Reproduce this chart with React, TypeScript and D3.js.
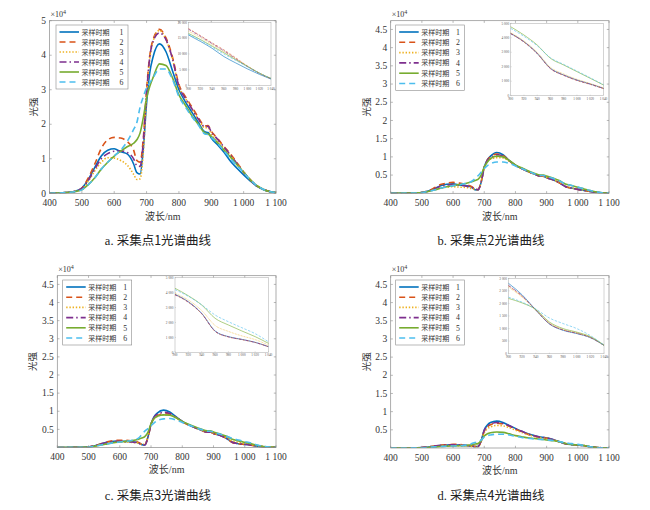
import React from 'react';
import * as d3 from 'd3';

// ---------- data ----------
const wavelengths = [400, 450, 480, 500, 520, 540, 560, 580, 600, 620, 640, 660, 670, 680, 690, 700, 710, 720, 740, 760, 780, 800, 820, 840, 860, 880, 890, 900, 920, 940, 960, 980, 1000, 1020, 1040, 1060, 1080, 1100];

const periodNames = ['采样时期', '采样时期', '采样时期', '采样时期', '采样时期', '采样时期'];
const periodNumbers = ['1', '2', '3', '4', '5', '6'];
const periodColors = ['#0072BD', '#D95319', '#EDB120', '#7E2F8E', '#77AC30', '#4DBEEE'];
const periodDashes = ['', '6,4', '1.4,1.8', '7,3,1.5,3', '', '6,4'];
const periodInsetDashes = ['', '2.5,1.5', '0.8,0.8', '3,1.2,0.8,1.2', '', '2.5,1.5'];

const xTicks = [400, 500, 600, 700, 800, 900, 1000, 1100];
const insetXTicks = [900, 920, 940, 960, 980, 1000, 1020, 1040];
const yTicksSite1 = [0, 1, 2, 3, 4, 5];
const yTicksOther = [0.5, 1, 1.5, 2, 2.5, 3, 3.5, 4, 4.5];
const insetYTicksSite1 = [0, 5000, 10000, 15000, 20000];
const insetYTicksSite23 = [0, 1000, 2000, 3000, 4000, 5000];
const insetYTicksSite4 = [0, 500, 1000, 1500, 2000, 2500, 3000];

const captionLetters = ['a.', 'b.', 'c.', 'd.'];
const captionTexts = ['采集点1光谱曲线', '采集点2光谱曲线', '采集点3光谱曲线', '采集点4光谱曲线'];

// site 1 (×10^4)
const site1P1 = [0, 0.02, 0.06, 0.15, 0.4, 0.75, 1.08, 1.25, 1.29, 1.2, 1.14, 0.85, 0.6, 0.56, 1.3, 2.6, 3.5, 3.95, 4.33, 4.1, 3.55, 3.0, 2.65, 2.35, 2.05, 1.78, 1.76, 1.6, 1.4, 1.18, 0.92, 0.72, 0.53, 0.36, 0.21, 0.11, 0.05, 0.02];
const site1P2 = [0, 0.02, 0.06, 0.15, 0.45, 0.85, 1.3, 1.55, 1.62, 1.6, 1.5, 1.25, 0.95, 0.9, 1.6, 3.0, 4.0, 4.45, 4.75, 4.5, 3.95, 3.15, 2.8, 2.5, 2.2, 1.95, 1.96, 1.8, 1.58, 1.35, 1.13, 0.88, 0.62, 0.4, 0.22, 0.12, 0.05, 0.02];
const site1P3 = [0, 0.02, 0.06, 0.13, 0.35, 0.65, 0.9, 1.03, 1.02, 0.95, 0.82, 0.55, 0.4, 0.42, 1.2, 2.8, 3.9, 4.4, 4.72, 4.45, 3.9, 3.1, 2.75, 2.45, 2.15, 1.9, 1.9, 1.72, 1.52, 1.3, 1.08, 0.85, 0.62, 0.4, 0.23, 0.12, 0.05, 0.02];
const site1P4 = [0, 0.02, 0.06, 0.14, 0.38, 0.7, 1.0, 1.15, 1.22, 1.23, 1.18, 1.0, 0.8, 0.78, 1.5, 2.9, 3.95, 4.4, 4.65, 4.45, 3.9, 3.1, 2.75, 2.45, 2.15, 1.93, 1.94, 1.78, 1.56, 1.33, 1.1, 0.85, 0.6, 0.39, 0.22, 0.12, 0.05, 0.02];
const site1P5 = [0, 0.02, 0.05, 0.1, 0.25, 0.45, 0.7, 0.9, 1.08, 1.22, 1.35, 1.45, 1.55, 1.75, 2.2, 2.75, 3.1, 3.35, 3.75, 3.7, 3.35, 2.85, 2.55, 2.25, 2.0, 1.75, 1.72, 1.65, 1.46, 1.25, 1.04, 0.82, 0.61, 0.4, 0.23, 0.12, 0.05, 0.02];
const site1P6 = [0, 0.02, 0.05, 0.1, 0.25, 0.45, 0.7, 0.9, 1.08, 1.25, 1.5, 1.85, 2.05, 2.5, 2.8, 3.05, 3.2, 3.35, 3.6, 3.6, 3.3, 2.8, 2.5, 2.22, 1.98, 1.72, 1.7, 1.62, 1.44, 1.22, 1.0, 0.8, 0.6, 0.4, 0.23, 0.12, 0.05, 0.02];

// site 2
const site2P1 = [0, 0.005, 0.01, 0.02, 0.06, 0.13, 0.21, 0.25, 0.26, 0.23, 0.21, 0.17, 0.1, 0.09, 0.3, 0.72, 0.92, 1.02, 1.12, 1.06, 0.9, 0.77, 0.68, 0.6, 0.53, 0.47, 0.47, 0.43, 0.373, 0.293, 0.189, 0.143, 0.108, 0.081, 0.051, 0.025, 0.01, 0.005];
const site2P2 = [0, 0.005, 0.01, 0.02, 0.07, 0.15, 0.24, 0.28, 0.3, 0.28, 0.24, 0.18, 0.12, 0.1, 0.32, 0.72, 0.92, 1.0, 1.08, 1.04, 0.9, 0.77, 0.68, 0.6, 0.53, 0.47, 0.47, 0.43, 0.37, 0.29, 0.186, 0.14, 0.105, 0.078, 0.049, 0.024, 0.01, 0.005];
const site2P3 = [0, 0.005, 0.01, 0.02, 0.05, 0.1, 0.14, 0.17, 0.18, 0.17, 0.16, 0.13, 0.1, 0.1, 0.3, 0.68, 0.88, 0.94, 0.98, 0.97, 0.88, 0.77, 0.68, 0.6, 0.53, 0.47, 0.46, 0.435, 0.378, 0.3, 0.196, 0.15, 0.113, 0.085, 0.054, 0.026, 0.01, 0.005];
const site2P4 = [0, 0.005, 0.01, 0.02, 0.06, 0.12, 0.19, 0.22, 0.24, 0.22, 0.2, 0.16, 0.12, 0.1, 0.3, 0.7, 0.9, 0.98, 1.06, 1.03, 0.9, 0.77, 0.68, 0.6, 0.53, 0.47, 0.47, 0.428, 0.372, 0.292, 0.188, 0.142, 0.107, 0.08, 0.05, 0.025, 0.01, 0.005];
const site2P5 = [0, 0.005, 0.01, 0.02, 0.05, 0.09, 0.14, 0.18, 0.21, 0.24, 0.27, 0.32, 0.35, 0.38, 0.5, 0.72, 0.86, 0.95, 1.02, 1.0, 0.9, 0.78, 0.7, 0.62, 0.55, 0.5, 0.5, 0.476, 0.419, 0.35, 0.258, 0.212, 0.166, 0.12, 0.074, 0.035, 0.012, 0.005];
const site2P6 = [0, 0.005, 0.01, 0.02, 0.05, 0.09, 0.14, 0.18, 0.21, 0.24, 0.27, 0.33, 0.4, 0.48, 0.58, 0.68, 0.76, 0.81, 0.86, 0.86, 0.82, 0.75, 0.68, 0.61, 0.54, 0.49, 0.49, 0.465, 0.41, 0.345, 0.262, 0.216, 0.17, 0.124, 0.076, 0.036, 0.012, 0.005];

// site 3
const site3P1 = [0, 0.004, 0.008, 0.015, 0.05, 0.1, 0.15, 0.17, 0.18, 0.17, 0.16, 0.13, 0.08, 0.07, 0.28, 0.65, 0.85, 0.95, 1.03, 0.98, 0.85, 0.72, 0.63, 0.55, 0.48, 0.43, 0.43, 0.389, 0.339, 0.261, 0.143, 0.105, 0.087, 0.067, 0.038, 0.018, 0.008, 0.004];
const site3P2 = [0, 0.004, 0.008, 0.015, 0.05, 0.1, 0.16, 0.19, 0.2, 0.2, 0.18, 0.14, 0.09, 0.08, 0.28, 0.64, 0.82, 0.88, 0.93, 0.92, 0.83, 0.71, 0.62, 0.55, 0.48, 0.42, 0.42, 0.385, 0.335, 0.258, 0.14, 0.103, 0.085, 0.066, 0.037, 0.018, 0.008, 0.004];
const site3P3 = [0, 0.004, 0.008, 0.015, 0.04, 0.08, 0.12, 0.14, 0.15, 0.15, 0.14, 0.12, 0.09, 0.09, 0.3, 0.64, 0.8, 0.86, 0.9, 0.89, 0.82, 0.71, 0.63, 0.55, 0.48, 0.43, 0.43, 0.395, 0.35, 0.28, 0.18, 0.14, 0.11, 0.085, 0.048, 0.022, 0.009, 0.004];
const site3P4 = [0, 0.004, 0.008, 0.015, 0.05, 0.1, 0.14, 0.16, 0.17, 0.16, 0.15, 0.12, 0.08, 0.07, 0.27, 0.64, 0.84, 0.92, 0.97, 0.94, 0.84, 0.72, 0.63, 0.55, 0.48, 0.42, 0.42, 0.386, 0.337, 0.259, 0.142, 0.104, 0.086, 0.066, 0.037, 0.018, 0.008, 0.004];
const site3P5 = [0, 0.004, 0.008, 0.012, 0.035, 0.07, 0.1, 0.13, 0.15, 0.17, 0.19, 0.23, 0.26, 0.3, 0.42, 0.65, 0.8, 0.86, 0.9, 0.89, 0.82, 0.72, 0.64, 0.57, 0.51, 0.46, 0.46, 0.429, 0.379, 0.317, 0.228, 0.183, 0.143, 0.105, 0.06, 0.028, 0.01, 0.004];
const site3P6 = [0, 0.004, 0.008, 0.012, 0.035, 0.07, 0.1, 0.13, 0.15, 0.17, 0.2, 0.26, 0.35, 0.45, 0.52, 0.6, 0.68, 0.74, 0.79, 0.8, 0.76, 0.69, 0.62, 0.56, 0.5, 0.45, 0.45, 0.42, 0.375, 0.318, 0.25, 0.205, 0.165, 0.125, 0.07, 0.032, 0.012, 0.004];

// site 4
const site4P1 = [0, 0.002, 0.005, 0.01, 0.025, 0.05, 0.07, 0.08, 0.085, 0.08, 0.07, 0.05, 0.04, 0.04, 0.2, 0.5, 0.63, 0.7, 0.74, 0.7, 0.62, 0.54, 0.46, 0.39, 0.34, 0.3, 0.29, 0.28, 0.234, 0.174, 0.118, 0.093, 0.08, 0.064, 0.033, 0.015, 0.006, 0.002];
const site4P2 = [0, 0.002, 0.005, 0.01, 0.03, 0.055, 0.08, 0.09, 0.1, 0.095, 0.08, 0.06, 0.045, 0.04, 0.19, 0.46, 0.58, 0.64, 0.68, 0.66, 0.6, 0.52, 0.45, 0.38, 0.33, 0.29, 0.285, 0.27, 0.228, 0.174, 0.12, 0.095, 0.082, 0.065, 0.033, 0.015, 0.006, 0.002];
const site4P3 = [0, 0.002, 0.005, 0.01, 0.02, 0.04, 0.05, 0.06, 0.065, 0.06, 0.055, 0.045, 0.04, 0.04, 0.17, 0.42, 0.53, 0.58, 0.62, 0.61, 0.56, 0.49, 0.43, 0.37, 0.32, 0.285, 0.28, 0.265, 0.225, 0.174, 0.122, 0.096, 0.083, 0.066, 0.033, 0.015, 0.006, 0.002];
const site4P4 = [0, 0.002, 0.005, 0.01, 0.03, 0.055, 0.075, 0.085, 0.09, 0.085, 0.075, 0.055, 0.04, 0.04, 0.2, 0.48, 0.6, 0.66, 0.7, 0.68, 0.61, 0.53, 0.46, 0.39, 0.335, 0.295, 0.29, 0.272, 0.23, 0.174, 0.119, 0.094, 0.081, 0.064, 0.033, 0.015, 0.006, 0.002];
const site4P5 = [0, 0.002, 0.004, 0.008, 0.015, 0.03, 0.04, 0.05, 0.055, 0.06, 0.07, 0.09, 0.11, 0.12, 0.2, 0.33, 0.39, 0.42, 0.44, 0.43, 0.39, 0.34, 0.31, 0.28, 0.26, 0.24, 0.235, 0.22, 0.202, 0.176, 0.126, 0.1, 0.086, 0.068, 0.034, 0.015, 0.006, 0.002];
const site4P6 = [0, 0.002, 0.004, 0.008, 0.015, 0.03, 0.04, 0.05, 0.055, 0.06, 0.08, 0.12, 0.15, 0.17, 0.22, 0.3, 0.34, 0.36, 0.38, 0.38, 0.36, 0.32, 0.29, 0.27, 0.25, 0.235, 0.23, 0.225, 0.205, 0.178, 0.142, 0.12, 0.1, 0.072, 0.034, 0.015, 0.006, 0.002];

const site1 = [site1P1, site1P2, site1P3, site1P4, site1P5, site1P6];
const site2 = [site2P1, site2P2, site2P3, site2P4, site2P5, site2P6];
const site3 = [site3P1, site3P2, site3P3, site3P4, site3P5, site3P6];
const site4 = [site4P1, site4P2, site4P3, site4P4, site4P5, site4P6];

// ---------- layout ----------
const panels = [
  { series: site1, letter: captionLetters[0], caption: captionTexts[0], left: 49.5, right: 276, top: 20.7, bottom: 193.3, ymax: 5, yticks: yTicksSite1,
    legend: { x: 56, y: 25, w: 72, h: 64 }, inset: { left: 188.5, right: 271, top: 22.3, bottom: 85.7, ymax: 20000, ticks: insetYTicksSite1 },
    ylabelX: 33, captionX: 158, captionY: 244.5, tickY: 206, xlabelY: 219.5 },
  { series: site2, letter: captionLetters[1], caption: captionTexts[1], left: 390.7, right: 609, top: 20.7, bottom: 193.3, ymax: 4.74, yticks: yTicksOther,
    legend: { x: 395.7, y: 25, w: 68.6, h: 65.5 }, inset: { left: 510.7, right: 603.5, top: 23.3, bottom: 95.7, ymax: 5000, ticks: insetYTicksSite23 },
    ylabelX: 366.7, captionX: 491, captionY: 244.5, tickY: 206, xlabelY: 219.5 },
  { series: site3, letter: captionLetters[2], caption: captionTexts[2], left: 57.3, right: 276, top: 275.7, bottom: 447.5, ymax: 4.74, yticks: yTicksOther,
    legend: { x: 62.7, y: 280, w: 69, h: 65 }, inset: { left: 175, right: 268.5, top: 277.7, bottom: 352.3, ymax: 5000, ticks: insetYTicksSite23 },
    ylabelX: 32.7, captionX: 158, captionY: 499.5, tickY: 460, xlabelY: 473 },
  { series: site4, letter: captionLetters[3], caption: captionTexts[3], left: 390.7, right: 609, top: 275.7, bottom: 448, ymax: 4.74, yticks: yTicksOther,
    legend: { x: 395.7, y: 280, w: 68.6, h: 65 }, inset: { left: 508.5, right: 604, top: 278.3, bottom: 353.7, ymax: 3000, ticks: insetYTicksSite4 },
    ylabelX: 366.7, captionX: 491, captionY: 499.5, tickY: 460.5, xlabelY: 473.5 },
];

const SERIF = '"Liberation Serif", "Times New Roman", "DejaVu Serif", serif';
const CJK = '"Noto Sans CJK SC", "Noto Sans", sans-serif';
const AXIS = '#8a8a8a';
const TXT = '#333';

const fmtSpace = (v: number) => {
  if (v >= 1000) {
    const k = Math.floor(v / 1000);
    const r = Math.round(v % 1000);
    return `${k} ${String(r).padStart(3, '0')}`;
  }
  return String(v);
};

function Panel({ p, idx }: { p: any; idx: number }) {
  const x = d3.scaleLinear().domain([400, 1100]).range([p.left, p.right]);
  const y = d3.scaleLinear().domain([0, p.ymax]).range([p.bottom, p.top]);
  const line = d3.line<number>()
    .x((_, i) => x(wavelengths[i]))
    .y((d) => y(d))
    .curve(d3.curveMonotoneX);

  const ins = p.inset;
  const ix = d3.scaleLinear().domain([900, 1040]).range([ins.left, ins.right]);
  const iy = d3.scaleLinear().domain([0, ins.ymax]).range([ins.bottom, ins.top]);
  const insetIdx = wavelengths.map((_, i) => i).filter((i) => wavelengths[i] >= 900 && wavelengths[i] <= 1040);
  const clipId = `clip-main-${idx}`;
  const tl = 2.2;
  const yfmt = d3.format('~g');
  const midY = (p.top + p.bottom) / 2;
  const midX = (p.left + p.right) / 2;
  const lg = p.legend;
  const rowStep = (lg.h - 14) / 5;

  return (
    <g>
      <defs>
        <clipPath id={clipId}>
          <rect x={p.left} y={p.top} width={p.right - p.left} height={p.bottom - p.top} />
        </clipPath>
      </defs>
      <g clipPath={`url(#${clipId})`}>
        {p.series.map((s: number[], k: number) => (
          <path key={k} d={line(s) || ''} fill="none" stroke={periodColors[k]} strokeWidth={1.6}
            strokeDasharray={periodDashes[k] || undefined} strokeLinejoin="round" />
        ))}
      </g>
      <rect x={p.left} y={p.top} width={p.right - p.left} height={p.bottom - p.top} fill="none" stroke={AXIS} strokeWidth={0.7} />
      {xTicks.map((t) => (
        <g key={t}>
          <line x1={x(t)} x2={x(t)} y1={p.bottom} y2={p.bottom - tl} stroke={AXIS} strokeWidth={0.6} />
          <line x1={x(t)} x2={x(t)} y1={p.top} y2={p.top + tl} stroke={AXIS} strokeWidth={0.6} />
          <text x={x(t)} y={p.tickY} textAnchor="middle" fontFamily={SERIF} fontSize={9.5} fill={TXT}>{fmtSpace(t)}</text>
        </g>
      ))}
      {p.yticks.map((t: number) => (
        <g key={t}>
          <line x1={p.left} x2={p.left + tl} y1={y(t)} y2={y(t)} stroke={AXIS} strokeWidth={0.6} />
          <line x1={p.right} x2={p.right - tl} y1={y(t)} y2={y(t)} stroke={AXIS} strokeWidth={0.6} />
          <text x={p.left - 3.5} y={y(t) + 3.2} textAnchor="end" fontFamily={SERIF} fontSize={9.5} fill={TXT}>{yfmt(t)}</text>
        </g>
      ))}
      <text x={p.left + 1} y={p.top - 3.5} fontFamily={SERIF} fontSize={8} fill={TXT}>
        ×10<tspan dy={-3.5} fontSize={6}>4</tspan>
      </text>
      <text x={midX} y={p.xlabelY} textAnchor="middle" fontFamily={CJK} fontSize={10} fill={TXT}>
        波长<tspan fontFamily={SERIF}>/nm</tspan>
      </text>
      <text transform={`translate(${p.ylabelX},${midY}) rotate(-90)`} textAnchor="middle" dy={3.5} fontFamily={CJK} fontSize={9.5} fill={TXT}>光强</text>
      <rect x={lg.x} y={lg.y} width={lg.w} height={lg.h} fill="#fff" stroke={AXIS} strokeWidth={0.6} />
      {periodNames.map((n, k) => {
        const ry = lg.y + 7 + k * rowStep;
        return (
          <g key={k}>
            <line x1={lg.x + 3.5} x2={lg.x + 23} y1={ry} y2={ry} stroke={periodColors[k]} strokeWidth={1.6}
              strokeDasharray={periodDashes[k] || undefined} />
            <text x={lg.x + 25.5} y={ry + 2.5} fontFamily={CJK} fontSize={7} fill={TXT}>{n}</text>
            <text x={lg.x + lg.w - 4.5} y={ry + 2.7} textAnchor="end" fontFamily={SERIF} fontSize={7.8} fill={TXT}>{periodNumbers[k]}</text>
          </g>
        );
      })}
      <rect x={ins.left} y={ins.top} width={ins.right - ins.left} height={ins.bottom - ins.top} fill="#fff" stroke="#a8a8a8" strokeWidth={0.5} />
      {p.series.map((s: number[], k: number) => {
        const il = d3.line<number>().x((i) => ix(wavelengths[i])).y((i) => iy(s[i] * 10000)).curve(d3.curveMonotoneX);
        return (
          <path key={k} d={il(insetIdx) || ''} fill="none" stroke={periodColors[k]} strokeWidth={0.6}
            strokeDasharray={periodInsetDashes[k] || undefined} />
        );
      })}
      {insetXTicks.map((t) => (
        <g key={t}>
          <line x1={ix(t)} x2={ix(t)} y1={ins.bottom} y2={ins.bottom - 1} stroke="#a8a8a8" strokeWidth={0.4} />
          <text x={ix(t)} y={ins.bottom + 4} textAnchor="middle" fontFamily={SERIF} fontSize={3.4} fill="#555">{fmtSpace(t)}</text>
        </g>
      ))}
      {ins.ticks.map((t: number) => (
        <g key={t}>
          <line x1={ins.left} x2={ins.left + 1} y1={iy(t)} y2={iy(t)} stroke="#a8a8a8" strokeWidth={0.4} />
          <text x={ins.left - 1.5} y={iy(t) + 1.2} textAnchor="end" fontFamily={SERIF} fontSize={3.4} fill="#555">{fmtSpace(t)}</text>
        </g>
      ))}
      <text x={p.captionX} y={p.captionY} textAnchor="middle" fontFamily={CJK} fontSize={12.5} fill="#222">
        <tspan fontFamily={SERIF}>{p.letter} </tspan>{p.caption}
      </text>
    </g>
  );
}

export default function App() {
  return (
    <svg width={650} height={510} viewBox="0 0 650 510"
      style={{ position: 'absolute', left: 0, top: 0, background: '#fff', display: 'block' }}>
      <rect x={0} y={0} width={650} height={510} fill="#fff" />
      {panels.map((p, i) => (
        <Panel key={i} p={p} idx={i} />
      ))}
    </svg>
  );
}
